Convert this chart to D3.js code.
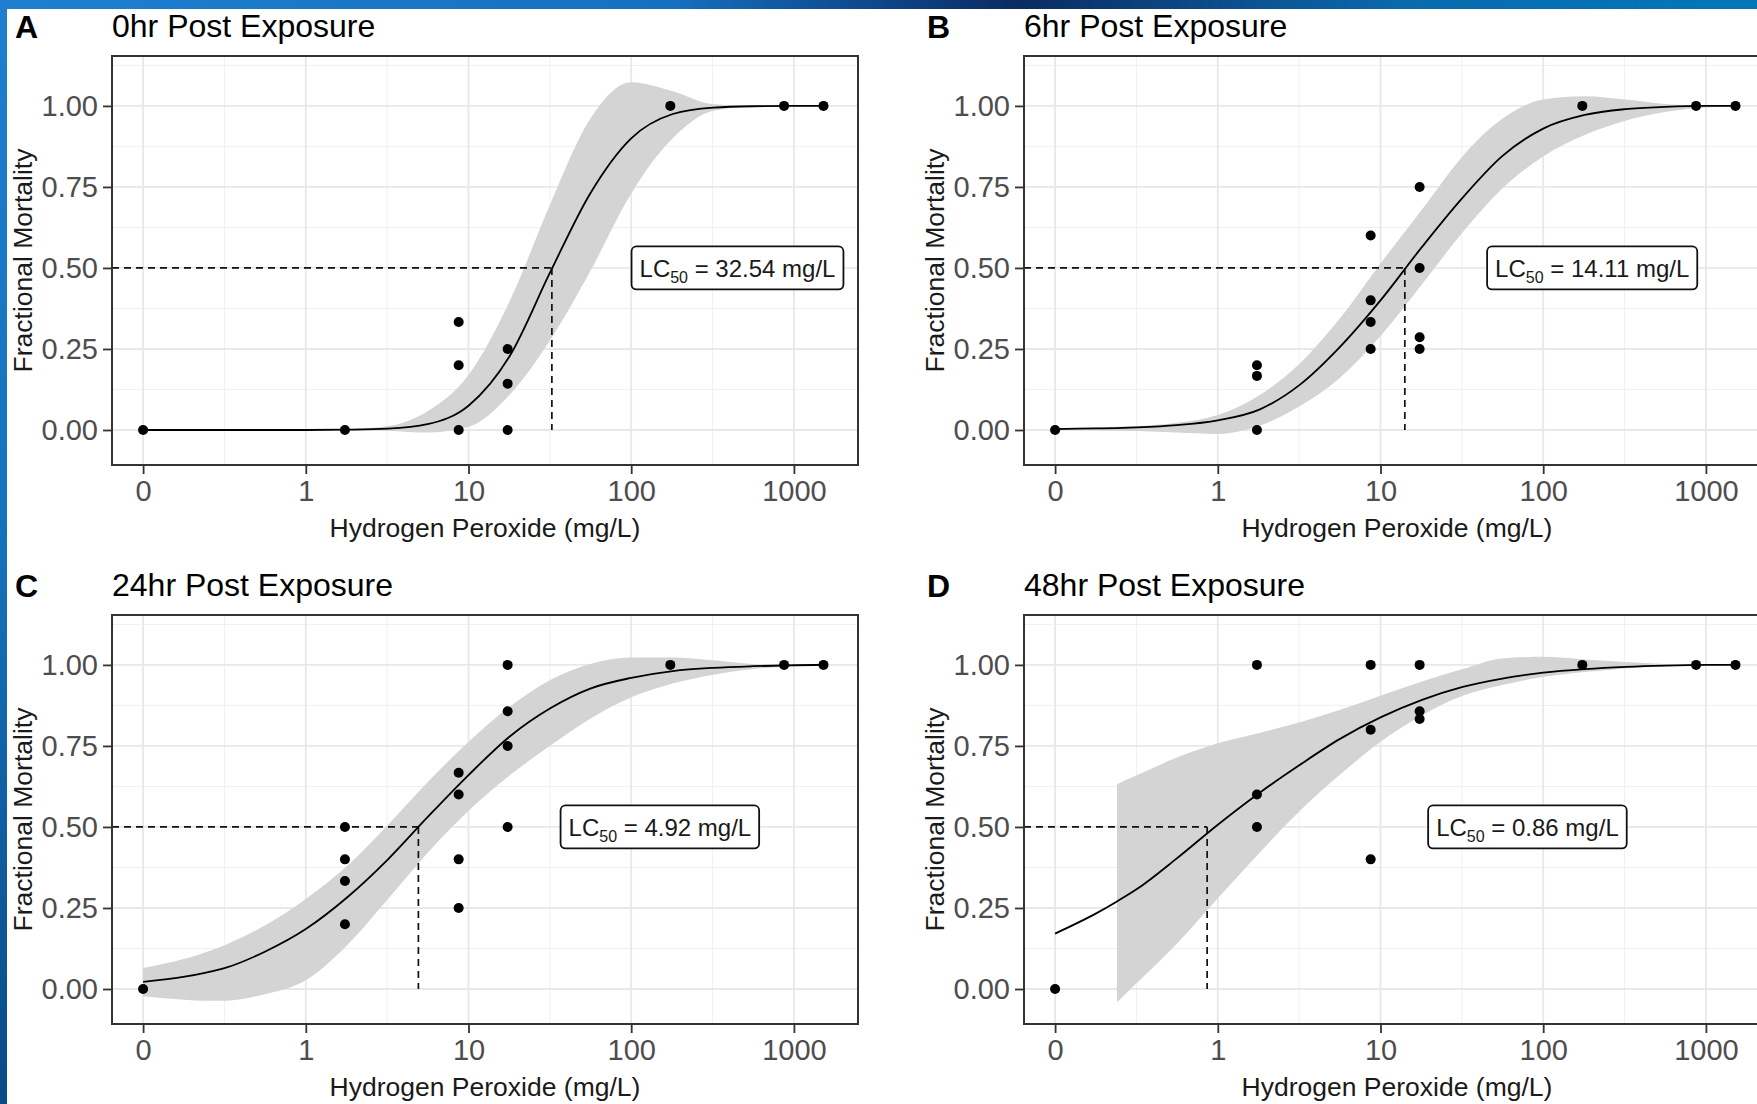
<!DOCTYPE html>
<html>
<head>
<meta charset="utf-8">
<script src="https://cdn.jsdelivr.net/npm/d3@7"></script>
<style>
  body { margin: 0; background: #fff; overflow: hidden; }
  svg { display: block; font-family: "Liberation Sans", Arial, sans-serif; }
</style>
</head>
<body>
<svg id="chart" width="1757" height="1104"></svg>
<script>
// dose grid for the fitted curves (mg/L, 0 = control)
const curveDose = [0, 0.18, 0.24, 0.32, 0.56, 1, 1.8, 3.2, 5.6, 10, 18, 32, 56, 100, 180, 320, 560, 1000, 1550];

const fitA = [0, 0, 0, 0, 0, 0, 0.001, 0.004, 0.018, 0.075, 0.23, 0.49, 0.73, 0.9, 0.975, 0.995, 0.999, 1, 1];
const lowA = [0, 0, 0, 0, 0, 0, 0, -0.002, -0.008, 0.01, 0.11, 0.28, 0.49, 0.73, 0.9, 0.985, 0.998, 1, 1];
const highA = [0, 0, 0, 0, 0, 0, 0.003, 0.012, 0.058, 0.17, 0.4, 0.7, 0.96, 1.073, 1.045, 1.005, 1.001, 1, 1];

const fitB = [0.003, 0.005, 0.006, 0.008, 0.015, 0.03, 0.063, 0.14, 0.255, 0.4, 0.565, 0.717, 0.845, 0.93, 0.972, 0.99, 0.997, 1, 1];
const lowB = [0, -0.001, -0.002, -0.003, -0.008, -0.012, 0.013, 0.074, 0.16, 0.29, 0.45, 0.61, 0.745, 0.844, 0.91, 0.954, 0.981, 0.995, 1];
const highB = [0.005, 0.008, 0.01, 0.012, 0.022, 0.046, 0.107, 0.206, 0.343, 0.514, 0.68, 0.845, 0.96, 1.02, 1.03, 1.02, 1.006, 1.001, 1];

const fitC = [0.022, 0.038, 0.05, 0.065, 0.115, 0.185, 0.283, 0.4, 0.53, 0.66, 0.78, 0.867, 0.927, 0.96, 0.981, 0.991, 0.996, 0.999, 1];
const lowC = [-0.022, -0.033, -0.036, -0.036, -0.016, 0.027, 0.136, 0.278, 0.42, 0.55, 0.66, 0.752, 0.834, 0.9, 0.943, 0.97, 0.987, 0.996, 1];
const highC = [0.065, 0.093, 0.113, 0.136, 0.196, 0.278, 0.38, 0.507, 0.638, 0.763, 0.872, 0.954, 1.003, 1.023, 1.023, 1.014, 1.003, 1, 1];

const fitD = [0.171, 0.234, 0.27, 0.309, 0.403, 0.507, 0.605, 0.692, 0.771, 0.838, 0.892, 0.932, 0.958, 0.976, 0.987, 0.994, 0.998, 1, 1];
const lowD = [null, null, -0.041, 0.02, 0.14, 0.28, 0.42, 0.55, 0.66, 0.763, 0.845, 0.905, 0.938, 0.963, 0.978, 0.989, 0.996, 0.999, 1];
const highD = [null, null, 0.632, 0.66, 0.714, 0.758, 0.79, 0.823, 0.861, 0.905, 0.949, 0.987, 1.02, 1.025, 1.017, 1.009, 1.003, 1, 1];

// observed mortality [dose, fraction]
const pointsA = [[0, 0], [1.74, 0], [8.7, 0.333], [8.7, 0.2], [8.7, 0], [17.4, 0.25], [17.4, 0.143], [17.4, 0], [174, 1], [870, 1], [1520, 1]];
const pointsB = [[0, 0], [1.74, 0.2], [1.74, 0.167], [1.74, 0], [8.7, 0.6], [8.7, 0.4], [8.7, 0.333], [8.7, 0.25], [17.4, 0.75], [17.4, 0.5], [17.4, 0.286], [17.4, 0.25], [174, 1], [870, 1], [1520, 1]];
const pointsC = [[0, 0], [1.74, 0.5], [1.74, 0.4], [1.74, 0.333], [1.74, 0.2], [8.7, 0.667], [8.7, 0.6], [8.7, 0.4], [8.7, 0.25], [17.4, 1], [17.4, 0.857], [17.4, 0.75], [17.4, 0.5], [174, 1], [870, 1], [1520, 1]];
const pointsD = [[0, 0], [1.74, 1], [1.74, 0.6], [1.74, 0.5], [8.7, 1], [8.7, 0.8], [8.7, 0.4], [17.4, 1], [17.4, 0.857], [17.4, 0.833], [174, 1], [870, 1], [1520, 1]];

const panelLetters = ["A", "B", "C", "D"];
const panelTitles = ["0hr Post Exposure", "6hr Post Exposure", "24hr Post Exposure", "48hr Post Exposure"];
const lc50 = [32.54, 14.11, 4.92, 0.86];
const lc50Text = ["32.54", "14.11", "4.92", "0.86"];
const labelDose = [450, 200, 150, 80];
const xTicks = [0, 1, 10, 100, 1000];
const yTicks = [0, 0.25, 0.5, 0.75, 1];

const fits = [fitA, fitB, fitC, fitD];
const lows = [lowA, lowB, lowC, lowD];
const highs = [highA, highB, highC, highD];
const points = [pointsA, pointsB, pointsC, pointsD];

// control (0) sits one decade under 1 on the log axis
const pos = (d) => (d === 0 ? 0.1 : d);

const svg = d3.select("#chart");
svg.append("rect").attr("width", 1757).attr("height", 1104).attr("fill", "#fff");

const box = { left: 112, right: 858, top: 56, bottom: 465 };

panelLetters.forEach((letter, i) => {
  const col = i % 2;
  const row = Math.floor(i / 2);
  const g = svg.append("g").attr("transform", `translate(${col * 912}, ${row * 559})`);
  drawPanel(g, i);
});

function drawPanel(g, i) {
  const x = d3.scaleLog().domain([0.0644, 2477]).range([box.left, box.right]);
  const y = d3.scaleLinear().domain([-0.108, 1.154]).range([box.bottom, box.top]);

  // grid
  const minorX = [-0.5, 0.5, 1.5, 2.5].map((e) => Math.pow(10, e));
  const minorY = [0.125, 0.375, 0.625, 0.875, 1.125];
  const grid = g.append("g");
  grid.selectAll(".mx").data(minorX).enter().append("line")
    .attr("x1", (d) => x(d)).attr("x2", (d) => x(d))
    .attr("y1", box.top).attr("y2", box.bottom)
    .attr("stroke", "#f0f0f0").attr("stroke-width", 1);
  grid.selectAll(".my").data(minorY).enter().append("line")
    .attr("x1", box.left).attr("x2", box.right)
    .attr("y1", (d) => y(d)).attr("y2", (d) => y(d))
    .attr("stroke", "#f0f0f0").attr("stroke-width", 1);
  grid.selectAll(".gx").data(xTicks).enter().append("line")
    .attr("x1", (d) => x(pos(d))).attr("x2", (d) => x(pos(d)))
    .attr("y1", box.top).attr("y2", box.bottom)
    .attr("stroke", "#e8e8e8").attr("stroke-width", 1.8);
  grid.selectAll(".gy").data(yTicks).enter().append("line")
    .attr("x1", box.left).attr("x2", box.right)
    .attr("y1", (d) => y(d)).attr("y2", (d) => y(d))
    .attr("stroke", "#e8e8e8").attr("stroke-width", 1.8);

  const rows = curveDose.map((d, k) => ({ dose: d, fit: fits[i][k], lo: lows[i][k], hi: highs[i][k] }));

  // confidence band
  const area = d3.area()
    .defined((d) => d.lo != null)
    .x((d) => x(pos(d.dose)))
    .y0((d) => y(d.lo))
    .y1((d) => y(d.hi))
    .curve(d3.curveMonotoneX);
  g.append("path").datum(rows).attr("d", area).attr("fill", "#d4d4d4");

  // LC50 guides
  g.append("line")
    .attr("x1", box.left).attr("x2", x(lc50[i]))
    .attr("y1", y(0.5)).attr("y2", y(0.5))
    .attr("stroke", "#111").attr("stroke-width", 1.7).attr("stroke-dasharray", "7,5");
  g.append("line")
    .attr("x1", x(lc50[i])).attr("x2", x(lc50[i]))
    .attr("y1", y(0.5)).attr("y2", y(0))
    .attr("stroke", "#111").attr("stroke-width", 1.7).attr("stroke-dasharray", "7,5");

  // fitted curve
  const line = d3.line()
    .x((d) => x(pos(d.dose)))
    .y((d) => y(d.fit))
    .curve(d3.curveMonotoneX);
  g.append("path").datum(rows).attr("d", line)
    .attr("fill", "none").attr("stroke", "#000").attr("stroke-width", 1.8);

  g.selectAll("circle").data(points[i]).enter().append("circle")
    .attr("cx", (d) => x(pos(d[0])))
    .attr("cy", (d) => y(d[1]))
    .attr("r", 5)
    .attr("fill", "#000");

  // LC50 label
  const lab = g.append("g").attr("transform", `translate(${x(labelDose[i])}, ${y(0.5)})`);
  const rect = lab.append("rect");
  const t = lab.append("text")
    .attr("text-anchor", "middle")
    .attr("y", 9)
    .attr("font-size", 24)
    .attr("fill", "#1a1a1a");
  t.append("tspan").text("LC");
  t.append("tspan").attr("font-size", 16).attr("dy", 6).text("50");
  t.append("tspan").attr("dy", -6).text(` = ${lc50Text[i]} mg/L`);
  const bb = t.node().getBBox();
  rect.attr("x", bb.x - 8).attr("y", -21.5)
    .attr("width", bb.width + 16).attr("height", 43)
    .attr("rx", 5)
    .attr("fill", "#fff").attr("stroke", "#111").attr("stroke-width", 1.8);

  // panel border
  g.append("rect")
    .attr("x", box.left).attr("y", box.top)
    .attr("width", box.right - box.left).attr("height", box.bottom - box.top)
    .attr("fill", "none").attr("stroke", "#333").attr("stroke-width", 2);

  // axes
  const xAxis = g.append("g")
    .attr("transform", `translate(0, ${box.bottom})`)
    .call(d3.axisBottom(x)
      .tickValues(xTicks.map(pos))
      .tickFormat((d) => (d < 1 ? "0" : d3.format("d")(d)))
      .tickSize(9).tickPadding(6));
  const yAxis = g.append("g")
    .attr("transform", `translate(${box.left}, 0)`)
    .call(d3.axisLeft(y).tickValues(yTicks).tickFormat(d3.format(".2f")).tickSize(9).tickPadding(5));
  [xAxis, yAxis].forEach((a) => {
    a.select(".domain").remove();
    a.selectAll(".tick line").attr("stroke", "#333").attr("stroke-width", 1.8);
    a.selectAll(".tick text")
      .attr("fill", "#4d4d4d")
      .attr("font-size", 29)
      .attr("font-family", "Liberation Sans, Arial, sans-serif");
  });

  g.append("text")
    .attr("x", (box.left + box.right) / 2).attr("y", 537)
    .attr("text-anchor", "middle")
    .attr("font-size", 26.5).attr("fill", "#1a1a1a")
    .text("Hydrogen Peroxide (mg/L)");
  g.append("text")
    .attr("transform", `translate(32, ${(box.top + box.bottom) / 2}) rotate(-90)`)
    .attr("text-anchor", "middle")
    .attr("font-size", 26.5).attr("fill", "#1a1a1a")
    .text("Fractional Mortality");

  // titles
  g.append("text").attr("x", 15).attr("y", 38)
    .attr("font-size", 32).attr("font-weight", "bold").attr("fill", "#000")
    .text(panelLetters[i]);
  g.append("text").attr("x", box.left).attr("y", 37)
    .attr("font-size", 32).attr("fill", "#000")
    .text(panelTitles[i]);
}

// blue slide frame on top and left
const defs = svg.append("defs");
const gTop = defs.append("linearGradient").attr("id", "topBlue");
[[0, "#1e7fd0"], [0.38, "#1670bf"], [0.52, "#0d3f80"], [0.58, "#0a2b60"], [0.66, "#0c447f"], [0.8, "#0a6aae"], [1, "#0077b6"]]
  .forEach((s) => gTop.append("stop").attr("offset", s[0]).attr("stop-color", s[1]));
const gLeft = defs.append("linearGradient").attr("id", "leftBlue")
  .attr("x1", 0).attr("y1", 0).attr("x2", 0).attr("y2", 1);
[[0, "#1e7fd0"], [0.5, "#1571ba"], [1, "#0a4a86"]]
  .forEach((s) => gLeft.append("stop").attr("offset", s[0]).attr("stop-color", s[1]));
svg.append("rect").attr("x", 0).attr("y", 0).attr("width", 1757).attr("height", 9).attr("fill", "url(#topBlue)");
svg.append("rect").attr("x", 0).attr("y", 0).attr("width", 7).attr("height", 1104).attr("fill", "url(#leftBlue)");
</script>
</body>
</html>
